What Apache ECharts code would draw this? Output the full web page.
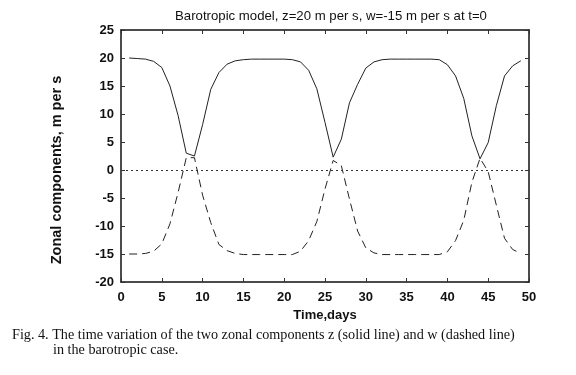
<!DOCTYPE html>
<html>
<head>
<meta charset="utf-8">
<script src="https://cdn.jsdelivr.net/npm/echarts@6/dist/echarts.min.js"></script>
<style>
  html, body { margin: 0; padding: 0; background: #fff; }
  #chart { width: 576px; height: 375px; }
</style>
</head>
<body>
<div id="chart"></div>
<script>
// time axis, days
var days = [1, 2, 3, 4, 5, 6, 7, 8, 9, 10,
  11, 12, 13, 14, 15, 16, 17, 18, 19, 20,
  21, 22, 23, 24, 25, 26, 27, 28, 29, 30,
  31, 32, 33, 34, 35, 36, 37, 38, 39, 40,
  41, 42, 43, 44, 45, 46, 47, 48, 49];
// z, solid line
var zValues = [20.0, 19.9, 19.8, 19.4, 18.3, 15.0, 9.7, 3.0, 2.5, 8.1,
  14.4, 17.4, 18.9, 19.5, 19.7, 19.8, 19.8, 19.8, 19.8, 19.8,
  19.7, 19.3, 17.8, 14.5, 8.5, 2.3, 5.5, 12.0, 15.3, 18.2,
  19.3, 19.7, 19.8, 19.8, 19.8, 19.8, 19.8, 19.8, 19.7, 18.8,
  16.8, 12.8, 6.1, 2.0, 4.9, 11.5, 16.8, 18.6, 19.5];
// w, dashed line
var wValues = [-15.0, -15.0, -14.9, -14.5, -13.2, -9.6, -4.0, 2.2, 2.2, -4.5,
  -9.4, -13.3, -14.4, -14.9, -15.1, -15.1, -15.1, -15.1, -15.1, -15.1,
  -15.1, -14.5, -12.6, -9.2, -3.4, 1.7, 0.8, -5.2, -10.9, -13.9,
  -14.8, -15.1, -15.1, -15.1, -15.1, -15.1, -15.1, -15.1, -15.1, -14.6,
  -12.6, -9.0, -2.2, 2.1, -0.3, -6.3, -12.2, -14.2, -14.9];

var xTicks = [0, 5, 10, 15, 20, 25, 30, 35, 40, 45, 50];
var yTicks = [-20, -15, -10, -5, 0, 5, 10, 15, 20, 25];

var titleText = 'Barotropic model, z=20 m per s, w=-15 m per s at t=0';
var yName = 'Zonal components, m per s';
var captionLine1 = 'Fig. 4. The time variation of the two zonal components z (solid line) and w (dashed line)';
var captionLine2 = 'in the barotropic case.';

function pairs(xs, ys) {
  return xs.map(function (x, i) { return [x, ys[i]]; });
}

var chart = echarts.init(document.getElementById('chart'));

var labelFont = {
  color: '#111',
  fontFamily: 'Liberation Sans',
  fontWeight: 'bold',
  fontSize: 13
};

var axisBase = {
  type: 'value',
  interval: 5,
  splitLine: { show: false },
  axisLine: { show: true, onZero: false, lineStyle: { color: '#111', width: 1.5 } },
  axisTick: { show: true, inside: true, length: 4, lineStyle: { color: '#333', width: 1 } }
};

var option = {
  animation: false,
  backgroundColor: '#fff',
  title: {
    text: titleText,
    left: 326,
    top: 5,
    textAlign: 'center',
    textStyle: { color: '#111', fontFamily: 'Liberation Sans', fontWeight: 'normal', fontSize: 13.2 }
  },
  grid: { left: 121, right: 47, top: 30, bottom: 93 },
  xAxis: [
    Object.assign({}, axisBase, {
      min: xTicks[0], max: xTicks[xTicks.length - 1],
      position: 'bottom',
      name: 'Time,days',
      nameLocation: 'middle',
      nameGap: 25,
      nameTextStyle: labelFont,
      axisLabel: Object.assign({ margin: 9 }, labelFont)
    }),
    Object.assign({}, axisBase, {
      min: xTicks[0], max: xTicks[xTicks.length - 1],
      position: 'top',
      axisLabel: { show: false }
    })
  ],
  yAxis: [
    Object.assign({}, axisBase, {
      min: yTicks[0], max: yTicks[yTicks.length - 1],
      position: 'left',
      axisLabel: Object.assign({ margin: 7 }, labelFont)
    }),
    Object.assign({}, axisBase, {
      min: yTicks[0], max: yTicks[yTicks.length - 1],
      position: 'right',
      axisLabel: { show: false }
    })
  ],
  series: [
    {
      name: 'z',
      type: 'line',
      data: pairs(days, zValues),
      symbol: 'none',
      silent: true,
      lineStyle: { color: '#222', width: 1 },
      markLine: {
        silent: true,
        symbol: 'none',
        label: { show: false },
        lineStyle: { color: '#333', width: 1, type: [2, 3] },
        data: [{ yAxis: 0 }]
      }
    },
    {
      name: 'w',
      type: 'line',
      data: pairs(days, wValues),
      symbol: 'none',
      silent: true,
      lineStyle: { color: '#222', width: 1, type: [8, 5] }
    }
  ],
  graphic: [
    {
      // y axis name, sits a bit below the plot centre as in the scan
      type: 'text',
      x: 57,
      y: 170,
      rotation: Math.PI / 2,
      style: {
        text: yName, fill: '#111', align: 'center', verticalAlign: 'middle',
        font: 'bold 14.5px "Liberation Sans"'
      }
    },
    {
      type: 'text',
      left: 12,
      top: 328,
      style: { text: captionLine1, fill: '#111', font: '14.2px "Liberation Serif"' }
    },
    {
      type: 'text',
      left: 53,
      top: 343,
      style: { text: captionLine2, fill: '#111', font: '14.2px "Liberation Serif"' }
    }
  ]
};

chart.setOption(option);
</script>
</body>
</html>
